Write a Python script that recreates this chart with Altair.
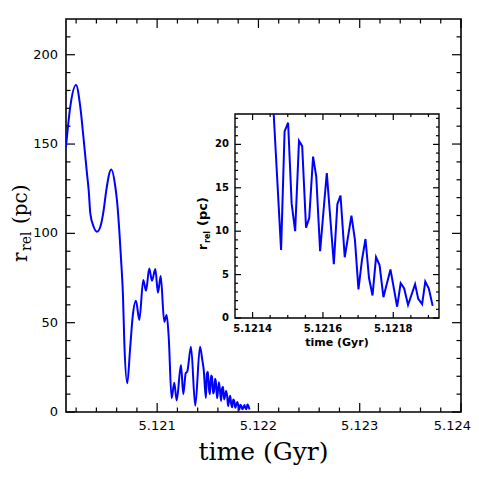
import altair as alt
import pandas as pd

# ---------------- data ----------------
main_t = [5.120100, 5.120142, 5.120199, 5.120241, 5.120275, 5.120307, 5.120324, 5.120340,
          5.120373, 5.120406, 5.120439, 5.120472, 5.120498, 5.120547, 5.120587, 5.120603,
          5.120626, 5.120646, 5.120663, 5.120676, 5.120705, 5.120732, 5.120758, 5.120791,
          5.120824, 5.120863, 5.120890, 5.120922, 5.120949, 5.120982, 5.121008, 5.121035,
          5.121070, 5.121094, 5.121114, 5.121143, 5.121169, 5.121193, 5.121235, 5.121258,
          5.121282, 5.121297, 5.121334, 5.121376, 5.121423, 5.121446, 5.121460]
main_r = [148.5, 170.8, 183.0, 170.8, 152.2, 133.6, 124.2, 111.2,
          103.7, 100.9, 103.7, 113.0, 124.2, 135.8, 126.1, 118.6,
          101.8, 83.2, 64.5, 38.6, 16.1, 34.7, 53.3, 62.3,
          51.5, 73.9, 67.9, 80.4, 73.5, 80.0, 66.8, 76.1,
          50.5, 54.3, 42.1, 7.7, 16.4, 6.5, 26.3, 10.0,
          21.7, 22.6, 36.5, 3.5, 36.5, 29.0, 23.5]

tail_t = [5.121481, 5.121491, 5.121501, 5.121511, 5.121521, 5.121532, 5.121541, 5.121552,
          5.121561, 5.121572, 5.121581, 5.121592, 5.121602, 5.121611, 5.121631, 5.121641,
          5.121650, 5.121662, 5.121681, 5.121691, 5.121701, 5.121711, 5.121721, 5.121731,
          5.121741, 5.121751, 5.121761, 5.121772, 5.121792, 5.121811, 5.121821, 5.121831,
          5.121842, 5.121862, 5.121871, 5.121882, 5.121891, 5.121901, 5.121912]
tail_r = [7.85, 21.5, 22.5, 13.2, 10.0, 20.4, 19.8, 10.4,
          11.5, 18.6, 16.3, 7.7, 12.5, 16.7, 6.2, 13.1,
          14.1, 7.0, 11.8, 9.0, 3.3, 6.7, 9.1, 4.6,
          2.6, 7.0, 6.1, 2.4, 5.6, 1.3, 4.0, 3.4,
          1.5, 3.9, 2.2, 1.6, 4.2, 3.4, 1.4]

# ticks / labels
main_x_major = [5.121, 5.122, 5.123]
main_x_labels = ["5.121", "5.122", "5.123"]
main_x_last = [5.124]
main_x_last_label = ["5.124"]
main_x_minor = [round(5.1200 + 0.0002 * i, 4) for i in range(1, 20) if i % 5]
main_y_major = [0, 50, 100, 150, 200]
main_y_labels = ["0", "50", "100", "150", "200"]
main_y_minor = [10 * i for i in range(1, 22) if i % 5]

in_x_major = [5.1214, 5.1216, 5.1218]
in_x_labels = ["5.1214", "5.1216", "5.1218"]
in_x_minor = [round(5.1214 + 0.00005 * i, 5) for i in range(1, 11) if i % 4]
in_y_major = [0, 5, 10, 15, 20]
in_y_labels = ["0", "5", "10", "15", "20"]
in_y_minor = [i for i in range(1, 24) if i % 5]

# ---------------- layout ----------------
W, H = 395, 393
IX0, IX1 = 169, 373
IY0, IY1 = 95, 299
BLUE = "#0000ff"
SANS = "DejaVu Sans"
SERIF = "DejaVu Serif"

xs_main = alt.Scale(domain=[5.1201, 5.124], nice=False, zero=False)
ys_main = alt.Scale(domain=[0, 220], nice=False, zero=False)
xs_in = alt.Scale(domain=[5.12135, 5.12193], range=[IX0, IX1], nice=False, zero=False)
ys_in = alt.Scale(domain=[0, 23.5], range=[IY1, IY0], nice=False, zero=False)

one = pd.DataFrame({"a": [0]})
main_df = pd.DataFrame({"t": main_t + tail_t, "r": main_r + tail_r})
inset_df = pd.DataFrame({"t": [main_t[-1]] + tail_t, "r": [main_r[-1]] + tail_r})


def xticks(vals, scale, y_edge, length):
    return alt.Chart(pd.DataFrame({"v": vals})).mark_rule(color="black", strokeWidth=1.2).encode(
        x=alt.X("v:Q", scale=scale, axis=None), y=alt.value(y_edge), y2=alt.value(y_edge + length))


def yticks(vals, scale, x_edge, length):
    return alt.Chart(pd.DataFrame({"v": vals})).mark_rule(color="black", strokeWidth=1.2).encode(
        y=alt.Y("v:Q", scale=scale, axis=None), x=alt.value(x_edge), x2=alt.value(x_edge + length))


def label(text, x, y, size, font=SERIF, weight="normal", angle=0, align="left"):
    return alt.Chart(one).mark_text(font=font, fontSize=size, fontWeight=weight, angle=angle, align=align,
                                    baseline="alphabetic", color="black").encode(
        x=alt.value(x), y=alt.value(y), text=alt.value(text))


# ---------------- main panel ----------------
main_frame = alt.Chart(one).mark_rect(fill="white", stroke="black", strokeWidth=1.6).encode(
    x=alt.value(0), x2=alt.value(W), y=alt.value(0), y2=alt.value(H))

main_line = alt.Chart(main_df).mark_line(color=BLUE, strokeWidth=2, interpolate="monotone", clip=True).encode(
    x=alt.X("t:Q", scale=xs_main, axis=None), y=alt.Y("r:Q", scale=ys_main, axis=None))

all_x_major = main_x_major + main_x_last
main_ticks = [
    xticks(all_x_major, xs_main, H, -9), xticks(main_x_minor, xs_main, H, -4.5),
    xticks(all_x_major, xs_main, 0, 9), xticks(main_x_minor, xs_main, 0, 4.5),
    yticks(main_y_major, ys_main, 0, 9), yticks(main_y_minor, ys_main, 0, 4.5),
    yticks(main_y_major, ys_main, W, -9), yticks(main_y_minor, ys_main, W, -4.5),
]

main_xlab = alt.Chart(pd.DataFrame({"v": main_x_major, "lab": main_x_labels})).mark_text(
    font=SANS, fontSize=13, align="center", baseline="alphabetic", color="black").encode(
    x=alt.X("v:Q", scale=xs_main, axis=None), y=alt.value(411), text="lab:N")
main_xlab_last = alt.Chart(pd.DataFrame({"v": main_x_last, "lab": main_x_last_label})).mark_text(
    font=SANS, fontSize=13, align="right", baseline="alphabetic", color="black", dx=10).encode(
    x=alt.X("v:Q", scale=xs_main, axis=None), y=alt.value(411), text="lab:N")
main_ylab = alt.Chart(pd.DataFrame({"v": main_y_major, "lab": main_y_labels})).mark_text(
    font=SANS, fontSize=13, align="right", baseline="middle", color="black").encode(
    y=alt.Y("v:Q", scale=ys_main, axis=None), x=alt.value(-8), text="lab:N")

main_xtitle = label("time (Gyr)", W / 2, 441, 25, align="center")
yt_r = label("r", -39, 243, 20, angle=270)
yt_rel = label("rel", -35, 232, 14, angle=270)
yt_pc = label("(pc)", -39, 205, 20, angle=270)

main_layer = alt.layer(main_frame, *main_ticks, main_line, main_xlab, main_xlab_last, main_ylab,
                       main_xtitle, yt_r, yt_rel, yt_pc)

# ---------------- inset panel ----------------
in_frame = alt.Chart(one).mark_rect(fill="white", stroke="black", strokeWidth=1.4).encode(
    x=alt.value(IX0), x2=alt.value(IX1), y=alt.value(IY0), y2=alt.value(IY1))

in_line = alt.Chart(inset_df).mark_line(color=BLUE, strokeWidth=2).encode(
    x=alt.X("t:Q", scale=xs_in, axis=None), y=alt.Y("r:Q", scale=ys_in, axis=None))

in_ticks = [
    xticks(in_x_major, xs_in, IY1, -6), xticks(in_x_minor, xs_in, IY1, -3),
    xticks(in_x_major, xs_in, IY0, 6), xticks(in_x_minor, xs_in, IY0, 3),
    yticks(in_y_major, ys_in, IX0, 6), yticks(in_y_minor, ys_in, IX0, 3),
    yticks(in_y_major, ys_in, IX1, -6), yticks(in_y_minor, ys_in, IX1, -3),
]

in_xlab = alt.Chart(pd.DataFrame({"v": in_x_major, "lab": in_x_labels})).mark_text(
    font=SANS, fontSize=10, fontWeight="bold", align="center", baseline="alphabetic", color="black").encode(
    x=alt.X("v:Q", scale=xs_in, axis=None), y=alt.value(IY1 + 14), text="lab:N")
in_ylab = alt.Chart(pd.DataFrame({"v": in_y_major, "lab": in_y_labels})).mark_text(
    font=SANS, fontSize=10, fontWeight="bold", align="right", baseline="middle", color="black").encode(
    y=alt.Y("v:Q", scale=ys_in, axis=None), x=alt.value(IX0 - 6), text="lab:N")

in_xtitle = label("time (Gyr)", (IX0 + IX1) / 2, IY1 + 28, 11, font=SANS, weight="bold", align="center")
iyt_r = label("r", IX0 - 28, 231, 12, font=SANS, weight="bold", angle=270)
iyt_rel = label("rel", IX0 - 25, 224, 8, font=SANS, weight="bold", angle=270)
iyt_pc = label("(pc)", IX0 - 28, 207, 13, font=SANS, weight="bold", angle=270)

inset_layer = alt.layer(in_frame, *in_ticks, in_line, in_xlab, in_ylab, in_xtitle, iyt_r, iyt_rel, iyt_pc)

chart = alt.layer(main_layer, inset_layer).resolve_scale(x="independent", y="independent").properties(
    width=W, height=H,
    autosize=alt.AutoSizeParams(type="none"),
    padding={"left": 58, "top": 11, "right": 10, "bottom": 54},
).configure_view(stroke=None)

chart.save("out.html", embed_options={"renderer": "svg", "actions": False})
